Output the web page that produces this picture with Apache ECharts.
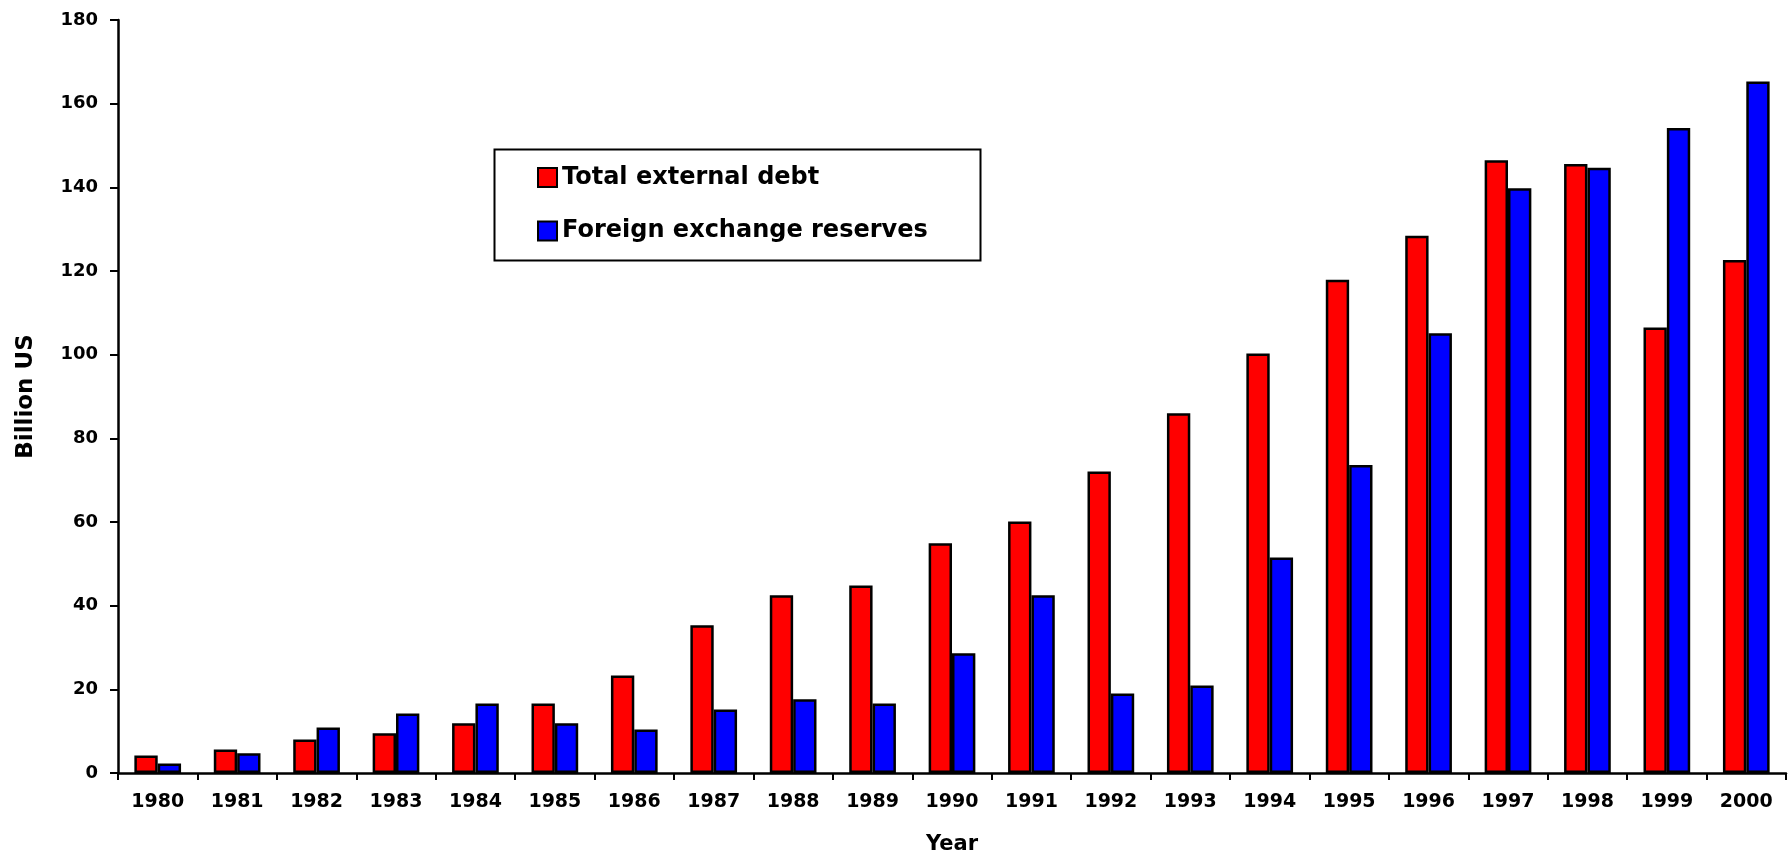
<!DOCTYPE html>
<html>
<head>
<meta charset="utf-8">
<script src="https://cdn.jsdelivr.net/npm/echarts@6/dist/echarts.min.js"></script>
<style>
  html, body { margin: 0; padding: 0; background: #fff; }
  #chart { width: 1792px; height: 853px; }
</style>
</head>
<body>
<div id="chart"></div>
<script>
const years = ['1980','1981','1982','1983','1984','1985','1986','1987','1988','1989','1990',
               '1991','1992','1993','1994','1995','1996','1997','1998','1999','2000'];
const totalExternalDebt = [4.2, 5.6, 8.0, 9.5, 11.9, 16.6, 23.3, 35.3, 42.5, 44.8, 54.9,
                           60.1, 72.1, 86.0, 100.3, 117.9, 128.4, 146.5, 145.6, 106.5, 122.6];
const foreignExchangeReserves = [2.3, 4.7, 10.9, 14.2, 16.6, 11.9, 10.4, 15.2, 17.6, 16.6, 28.6,
                                 42.5, 19.0, 20.9, 51.5, 73.6, 105.1, 139.8, 144.7, 154.2, 165.3];
const seriesNames = ['Total external debt', 'Foreign exchange reserves'];
const yAxisName = 'Billion US';
const xAxisName = 'Year';

const FONT = '"DejaVu Sans", "Liberation Sans", Arial, sans-serif';

const chart = echarts.init(document.getElementById('chart'), null, { renderer: 'canvas' });
chart.setOption({
  backgroundColor: '#ffffff',
  animation: false,
  textStyle: { fontFamily: FONT, color: '#000' },
  grid: { left: 118, right: 6, top: 20, bottom: 80, containLabel: false, outerBoundsMode: 'none' },
  graphic: [{
    type: 'rect',
    left: 492, top: 147,
    shape: { width: 486, height: 111 },
    style: { fill: 'none', stroke: '#000', lineWidth: 2 },
    z: 0
  }],
  legend: {
    orient: 'vertical',
    left: 537, top: 164.5,
    padding: 0,
    itemGap: 27.5,
    itemWidth: 19, itemHeight: 19,
    icon: 'rect',
    itemStyle: { borderColor: '#000', borderWidth: 2 },
    textStyle: { fontFamily: FONT, fontWeight: 'bold', fontSize: 24, lineHeight: 26, color: '#000' },
    data: seriesNames
  },
  xAxis: {
    type: 'category',
    data: years,
    boundaryGap: true,
    name: xAxisName,
    nameLocation: 'middle',
    nameGap: 61,
    nameTextStyle: { fontFamily: FONT, fontWeight: 'bold', fontSize: 21, color: '#000' },
    axisLine: { lineStyle: { color: '#000', width: 2.5 } },
    axisTick: { show: true, length: 7, lineStyle: { color: '#000', width: 2 }, alignWithLabel: false },
    axisLabel: { fontFamily: FONT, fontWeight: 'bold', fontSize: 19, color: '#000', margin: 20, interval: 0 },
    splitLine: { show: false }
  },
  yAxis: {
    type: 'value',
    min: 0, max: 180, interval: 20,
    name: yAxisName,
    nameLocation: 'middle',
    nameRotate: 90,
    nameGap: 80,
    nameTextStyle: { fontFamily: FONT, fontWeight: 'bold', fontSize: 23, color: '#000' },
    axisLine: { show: true, lineStyle: { color: '#000', width: 2.5 } },
    axisTick: { show: true, length: 8, lineStyle: { color: '#000', width: 2 } },
    axisLabel: { fontFamily: FONT, fontWeight: 'bold', fontSize: 18, color: '#000', margin: 20 },
    splitLine: { show: false }
  },
  series: [
    {
      name: seriesNames[0],
      type: 'bar',
      data: totalExternalDebt,
      barGap: '0%',
      barCategoryGap: '41.2%',
      itemStyle: { color: '#ff0000', borderColor: '#000', borderWidth: 2.5 }
    },
    {
      name: seriesNames[1],
      type: 'bar',
      data: foreignExchangeReserves,
      barGap: '0%',
      barCategoryGap: '41.2%',
      itemStyle: { color: '#0000ff', borderColor: '#000', borderWidth: 2.5 }
    }
  ]
});
</script>
</body>
</html>
